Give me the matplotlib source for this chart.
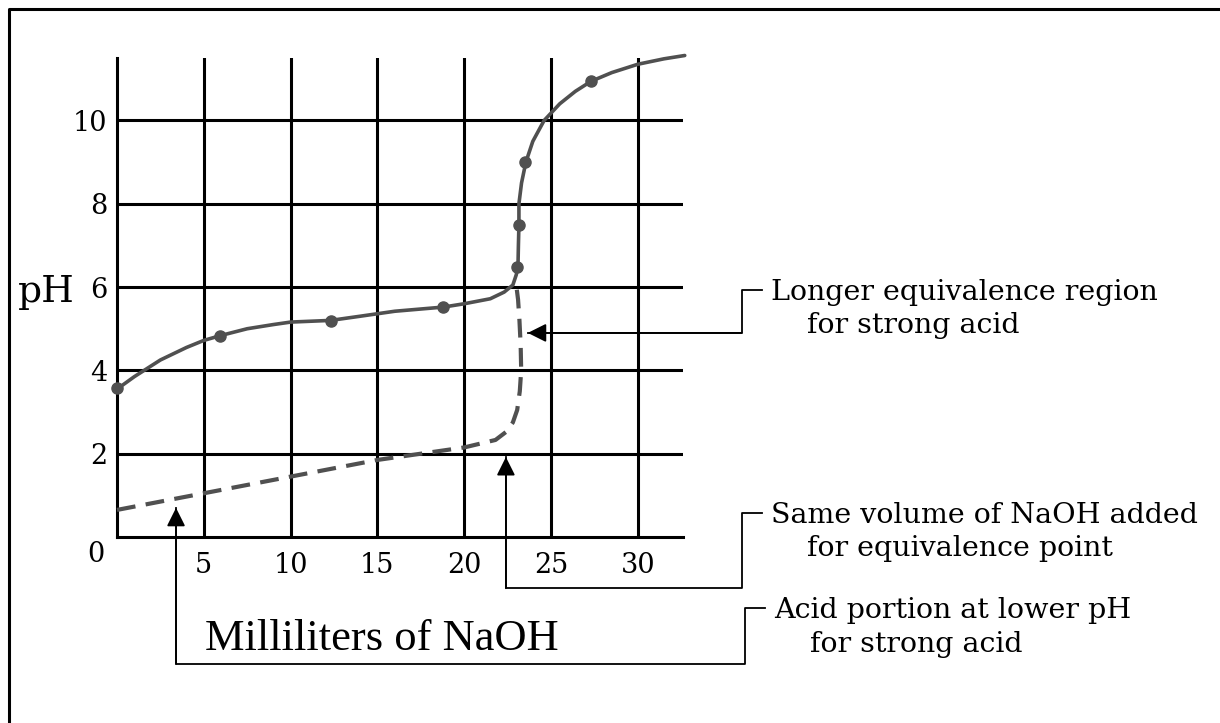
import matplotlib
matplotlib.use("Agg")
import matplotlib.pyplot as plt
from matplotlib.lines import Line2D

# weak acid titration (solid curve) and its measured points
weak_x = [0, 1, 2.5, 4, 5, 6, 7.5, 9, 10, 12.3, 14, 16, 18.8, 20, 21.5, 22.3,
          22.8, 23.0, 23.1, 23.12, 23.15, 23.15, 23.3, 23.55, 23.95, 24.6, 25.5,
          26.4, 27.3, 28.5, 30, 31.5, 32.7]
weak_ph = [3.55, 3.85, 4.25, 4.55, 4.72, 4.84, 5.0, 5.1, 5.16, 5.2, 5.3, 5.42,
           5.52, 5.6, 5.72, 5.88, 6.05, 6.3, 6.6, 7.0, 7.5, 8.0, 8.5, 9.0, 9.5,
           10.0, 10.4, 10.7, 10.94, 11.15, 11.35, 11.48, 11.56]
pts_x = [0, 5.95, 12.3, 18.8, 23.05, 23.15, 23.5, 27.3]
pts_ph = [3.58, 4.82, 5.18, 5.52, 6.48, 7.5, 9.0, 10.94]

# strong acid titration (dashed curve)
strong_x = [0, 2.5, 5, 7.5, 10, 12.5, 15, 17.5, 20, 21.0, 21.8, 22.4, 22.8,
            23.05, 23.2, 23.28, 23.25, 23.18, 23.1, 22.98]
strong_ph = [0.65, 0.85, 1.05, 1.25, 1.45, 1.65, 1.85, 2.0, 2.15, 2.25, 2.33,
             2.52, 2.75, 3.05, 3.5, 4.0, 4.6, 5.2, 5.7, 6.1]

x_ticks = [5, 10, 15, 20, 25, 30]
y_ticks = [2, 4, 6, 8, 10]

notes = [
    ("Longer equivalence region\n    for strong acid", (23.66, 4.90),
     [(23.66, 4.90), (35.98, 4.90), (35.98, 5.94), (37.13, 5.94)]),
    ("Same volume of NaOH added\n    for equivalence point", (22.40, 1.92),
     [(22.40, 1.92), (22.40, -1.23), (35.98, -1.23), (35.98, 0.58), (37.13, 0.58)]),
    ("Acid portion at lower pH\n    for strong acid", (3.40, 0.70),
     [(3.40, 0.70), (3.40, -3.05), (36.15, -3.05), (36.15, -1.71), (37.3, -1.71)]),
]

serif = "DejaVu Serif"
curve_col = "#505050"

fig = plt.figure(figsize=(12.2, 7.23), dpi=100)
ax = fig.add_axes([117 / 1220, 1 - 537 / 723, 566 / 1220, 479 / 723])
ax.set_xlim(0, 32.6)
ax.set_ylim(0, 11.5)

for s in ["top", "right"]:
    ax.spines[s].set_visible(False)
for s in ["left", "bottom"]:
    ax.spines[s].set_linewidth(2.2)
    ax.spines[s].set_color("black")

ax.set_xticks(x_ticks)
ax.set_yticks(y_ticks)
ax.set_xticklabels([str(v) for v in x_ticks], family=serif, fontsize=19.5)
ax.set_yticklabels([str(v) for v in y_ticks], family=serif, fontsize=19.5)
ax.tick_params(axis="x", length=0, pad=11)
ax.tick_params(axis="y", length=0, pad=7)
ax.grid(True, color="black", linewidth=2.2)
ax.set_axisbelow(True)

ax.plot(weak_x, weak_ph, color=curve_col, lw=2.6, clip_on=False,
        solid_capstyle="round", zorder=3)
ax.plot(pts_x, pts_ph, "o", color=curve_col, ms=8, clip_on=False, zorder=4)
ax.plot(strong_x, strong_ph, color=curve_col, lw=3, dashes=(4.5, 2.5),
        clip_on=False, zorder=3)

ax.text(-1.2, -0.41, "0", family=serif, fontsize=19.5, ha="center", va="center")
ax.text(-5.7, 5.63, "pH", family=serif, fontsize=27, ha="left", va="baseline")
ax.text(5.07, -2.72, "Milliliters of NaOH", family="Liberation Serif",
        fontsize=32, ha="left", va="baseline")

for label, tip, path in notes:
    px, py = zip(*path)
    ax.plot(px, py, color="black", lw=1.3, clip_on=False)
    # arrow head pointing back at the curve
    ax.annotate("", xy=tip, xytext=path[1], annotation_clip=False,
                arrowprops=dict(arrowstyle="-|>,head_length=0.8,head_width=0.4",
                                color="black", lw=1.3, mutation_scale=14,
                                shrinkA=0, shrinkB=0))
    ax.text(path[-1][0] + 0.55, path[-1][1] + 0.26, label, family=serif,
            fontsize=20.5, ha="left", va="top", linespacing=1.3)

# outer frame: only top and left edges are visible
fig.add_artist(Line2D([9 / 1220, 9 / 1220, 1], [0, 1 - 9 / 723, 1 - 9 / 723],
                      transform=fig.transFigure, color="black", lw=2.2))

fig.savefig("out.png", dpi=100)
